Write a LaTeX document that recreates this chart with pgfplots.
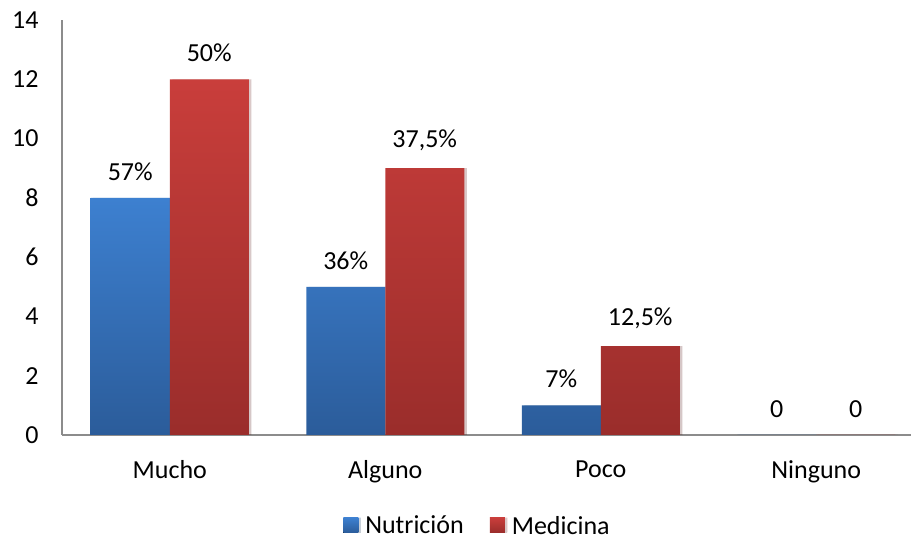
\documentclass[border=0pt]{standalone}
\usepackage{pgfplots}
\pgfplotsset{compat=1.18}
\usepackage{pgfplotstable}
\usetikzlibrary{shadows}
\usepackage{fontspec}
\setmainfont{Carlito}

\definecolor{nutTop}{HTML}{3D80D0}
\definecolor{nutBot}{HTML}{2B5C9A}
\definecolor{medTop}{HTML}{C93E3B}
\definecolor{medBot}{HTML}{9A2D2B}
\definecolor{axisgray}{HTML}{8C8C8C}

% counts per answer, with the share shown above each bar
\pgfplotstableread{
x val lab
0 8 57\%
1 5 36\%
2 1 7\%
3 0 0
}\nutricion
\pgfplotstableread{
x val lab
0 12 50\%
1 9 37,5\%
2 3 12,5\%
3 0 0
}\medicina

\begin{document}
\begin{tikzpicture}
\begin{axis}[
  scale only axis,
  width=862pt, height=415pt,
  ybar=0pt, bar width=79pt,
  xmin=-0.5, xmax=3.5,
  ymin=0, ymax=14,
  xtick={0,1,2,3},
  xticklabels={Mucho,Alguno,Poco,Ninguno},
  ytick={0,2,4,6,8,10,12,14},
  major tick length=0pt,
  axis x line*=bottom, axis y line*=left,
  axis line style={draw=axisgray, line width=1.3pt, -},
  /pgf/number format/assume math mode=true,
  tick label style={font=\fontsize{26}{31}\selectfont, text=black},
  xticklabel style={yshift=-22pt},
  yticklabel style={xshift=-20pt},
  clip=false,
  point meta=explicit symbolic,
  nodes near coords,
  every node near coord/.append style={font=\fontsize{26}{31}\selectfont, text=black, yshift=14pt},
  legend style={at={(0.482,-0.185)}, anchor=north, draw=none, fill=none,
    legend columns=2, font=\fontsize{26}{31}\selectfont,
    /tikz/every odd column/.append style={column sep=5pt},
    /tikz/every even column/.append style={column sep=24pt}},
  legend image code/.code={\fill[#1] (0pt,-7pt) rectangle (15pt,8pt);},
  bar shadow/.style={drop shadow={shadow xshift=2.5pt, shadow yshift=0pt, fill=black, opacity=0.13}},
]
\addplot[draw=none, top color=nutTop, bottom color=nutBot, bar shadow]
  table[x=x, y=val, meta=lab] {\nutricion};
\addplot[draw=none, top color=medTop, bottom color=medBot, bar shadow]
  table[x=x, y=val, meta=lab] {\medicina};
\legend{Nutrición, Medicina}
\coordinate (bbSW) at (rel axis cs:0,0);
\coordinate (bbNE) at (rel axis cs:1,1);
\end{axis}
\pgfresetboundingbox
\path ([shift={(-62pt,-105pt)}]bbSW) rectangle ([shift={(-13pt,20pt)}]bbNE);
\end{tikzpicture}
\end{document}
